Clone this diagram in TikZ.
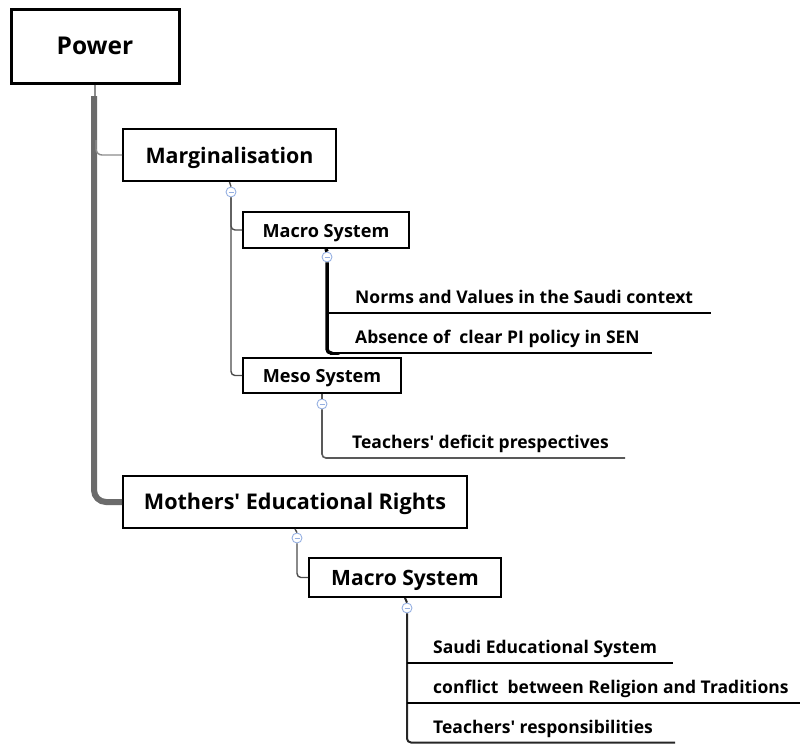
\documentclass[tikz,border=0pt]{standalone}
\usepackage{fontspec}
\setmainfont{Open Sans}
\newcommand{\apos}{\textquotesingle}
\definecolor{togglering}{RGB}{150,176,226}
\begin{document}
\begin{tikzpicture}[x=1pt,y=-1pt,
  box/.style={draw=black, fill=white, line width=2pt, inner sep=0pt, text depth=0pt},
  rootbox/.style={box, line width=3pt},
  leaf/.style={inner sep=0pt, anchor=base west, font=\bfseries\fontsize{17.5}{20}\selectfont},
  toggle/.style={circle, draw=togglering, fill=white, line width=0.9pt, minimum size=10pt, inner sep=0pt,
    path picture={\draw[togglering, line width=0.8pt] ([xshift=-2.5pt]path picture bounding box.center) -- ([xshift=2.5pt]path picture bounding box.center);}},
  trunk/.style={draw=black!58, line width=6pt, rounded corners=12pt},
  twig/.style={draw=black!45, line width=1.4pt, rounded corners=6pt},
  stem/.style={draw=black!70, line width=1.4pt, rounded corners=4pt},
  boldstem/.style={draw=black, line width=3.5pt, rounded corners=4pt},
  midstem/.style={draw=black!85, line width=2pt, rounded corners=4pt},
  underline/.style={draw=black, line width=2pt},
  grayline/.style={draw=black!65, line width=1.6pt, rounded corners=4pt}
]
\useasboundingbox (0,0) rectangle (802,744);

% main topics
\node[rootbox, minimum width=168pt, minimum height=74pt, text height=17.6pt, font=\bfseries\fontsize{24.5}{28}\selectfont] (power) at (95,46) {Power};
\node[box, minimum width=213pt, minimum height=52pt, text height=17.4pt, font=\bfseries\fontsize{21.4}{24}\selectfont] (marg) at (229.5,155) {Marginalisation};
\node[box, minimum width=344pt, minimum height=52pt, text height=15.6pt, font=\bfseries\fontsize{21.6}{24}\selectfont] (mothers) at (295,502) {Mothers\apos{} Educational Rights};

% subtopics
\node[box, minimum width=166pt, minimum height=36pt, text height=14pt, font=\bfseries\fontsize{18.1}{21}\selectfont] (macroA) at (326,230) {Macro System};
\node[box, minimum width=158pt, minimum height=35pt, text height=13.5pt, font=\bfseries\fontsize{18.1}{21}\selectfont] (meso) at (322,375.5) {Meso System};
\node[box, minimum width=192pt, minimum height=39pt, text height=15.2pt, font=\bfseries\fontsize{21.1}{24}\selectfont] (macroB) at (405,577.5) {Macro System};

% collapse toggles
\node[toggle] (tgA) at (231,192) {};
\node[toggle] (tgB) at (327,257) {};
\node[toggle] (tgC) at (322,404) {};
\node[toggle] (tgD) at (297,538) {};
\node[toggle] (tgE) at (407,608) {};

% leaf texts
\node[leaf] (norms) at (355,303) {Norms and Values in the Saudi context};
\node[leaf] (absence) at (355,343) {Absence of\ \ clear PI policy in SEN};
\node[leaf] (deficit) at (352,448) {Teachers\apos{} deficit prespectives};
\node[leaf] (saudi) at (433,653) {Saudi Educational System};
\node[leaf] (conflict) at (433,693) {conflict\ \ between Religion and Traditions};
\node[leaf] (resp) at (433,733) {Teachers\apos{} responsibilities};

% underline ends
\coordinate (normsEnd) at (711,313);
\coordinate (absenceEnd) at (652,353);
\coordinate (deficitEnd) at (625,458);
\coordinate (saudiEnd) at (673,663);
\coordinate (conflictEnd) at (800,703);
\coordinate (respEnd) at (675,742.5);

% trunk from the root
\coordinate (trunkTop) at (94,96);
\draw[draw=black!45, line width=1.4pt] (power.south) -- (95,96);
\draw[trunk] (trunkTop) |- (mothers.west);
\draw[twig] (96,140) |- (marg.west);

% Marginalisation branch
\draw[stem] (marg.south) -- (tgA.north);
\draw[stem] (tgA.south) |- (macroA.west);
\draw[stem] (tgA.south) |- (meso.west);

\draw[boldstem, rounded corners=0pt] (macroA.south) -- (tgB.north);
\draw[boldstem] (tgB.south) |- (330,353);
\draw[underline] (327,313) -- (normsEnd);
\draw[underline] (329,353) -- (absenceEnd);

\draw[grayline] (meso.south) -- (tgC.north);
\draw[grayline] (tgC.south) |- (deficitEnd);

% Mothers' branch
\draw[stem] (mothers.south) -- (tgD.north);
\draw[stem] (tgD.south) |- (macroB.west);

\draw[midstem] (macroB.south) -- (tgE.north);
\draw[midstem] (tgE.south) |- (respEnd);
\draw[underline] (tgE.south |- saudiEnd) -- (saudiEnd);
\draw[underline] (tgE.south |- conflictEnd) -- (conflictEnd);
\end{tikzpicture}
\end{document}
